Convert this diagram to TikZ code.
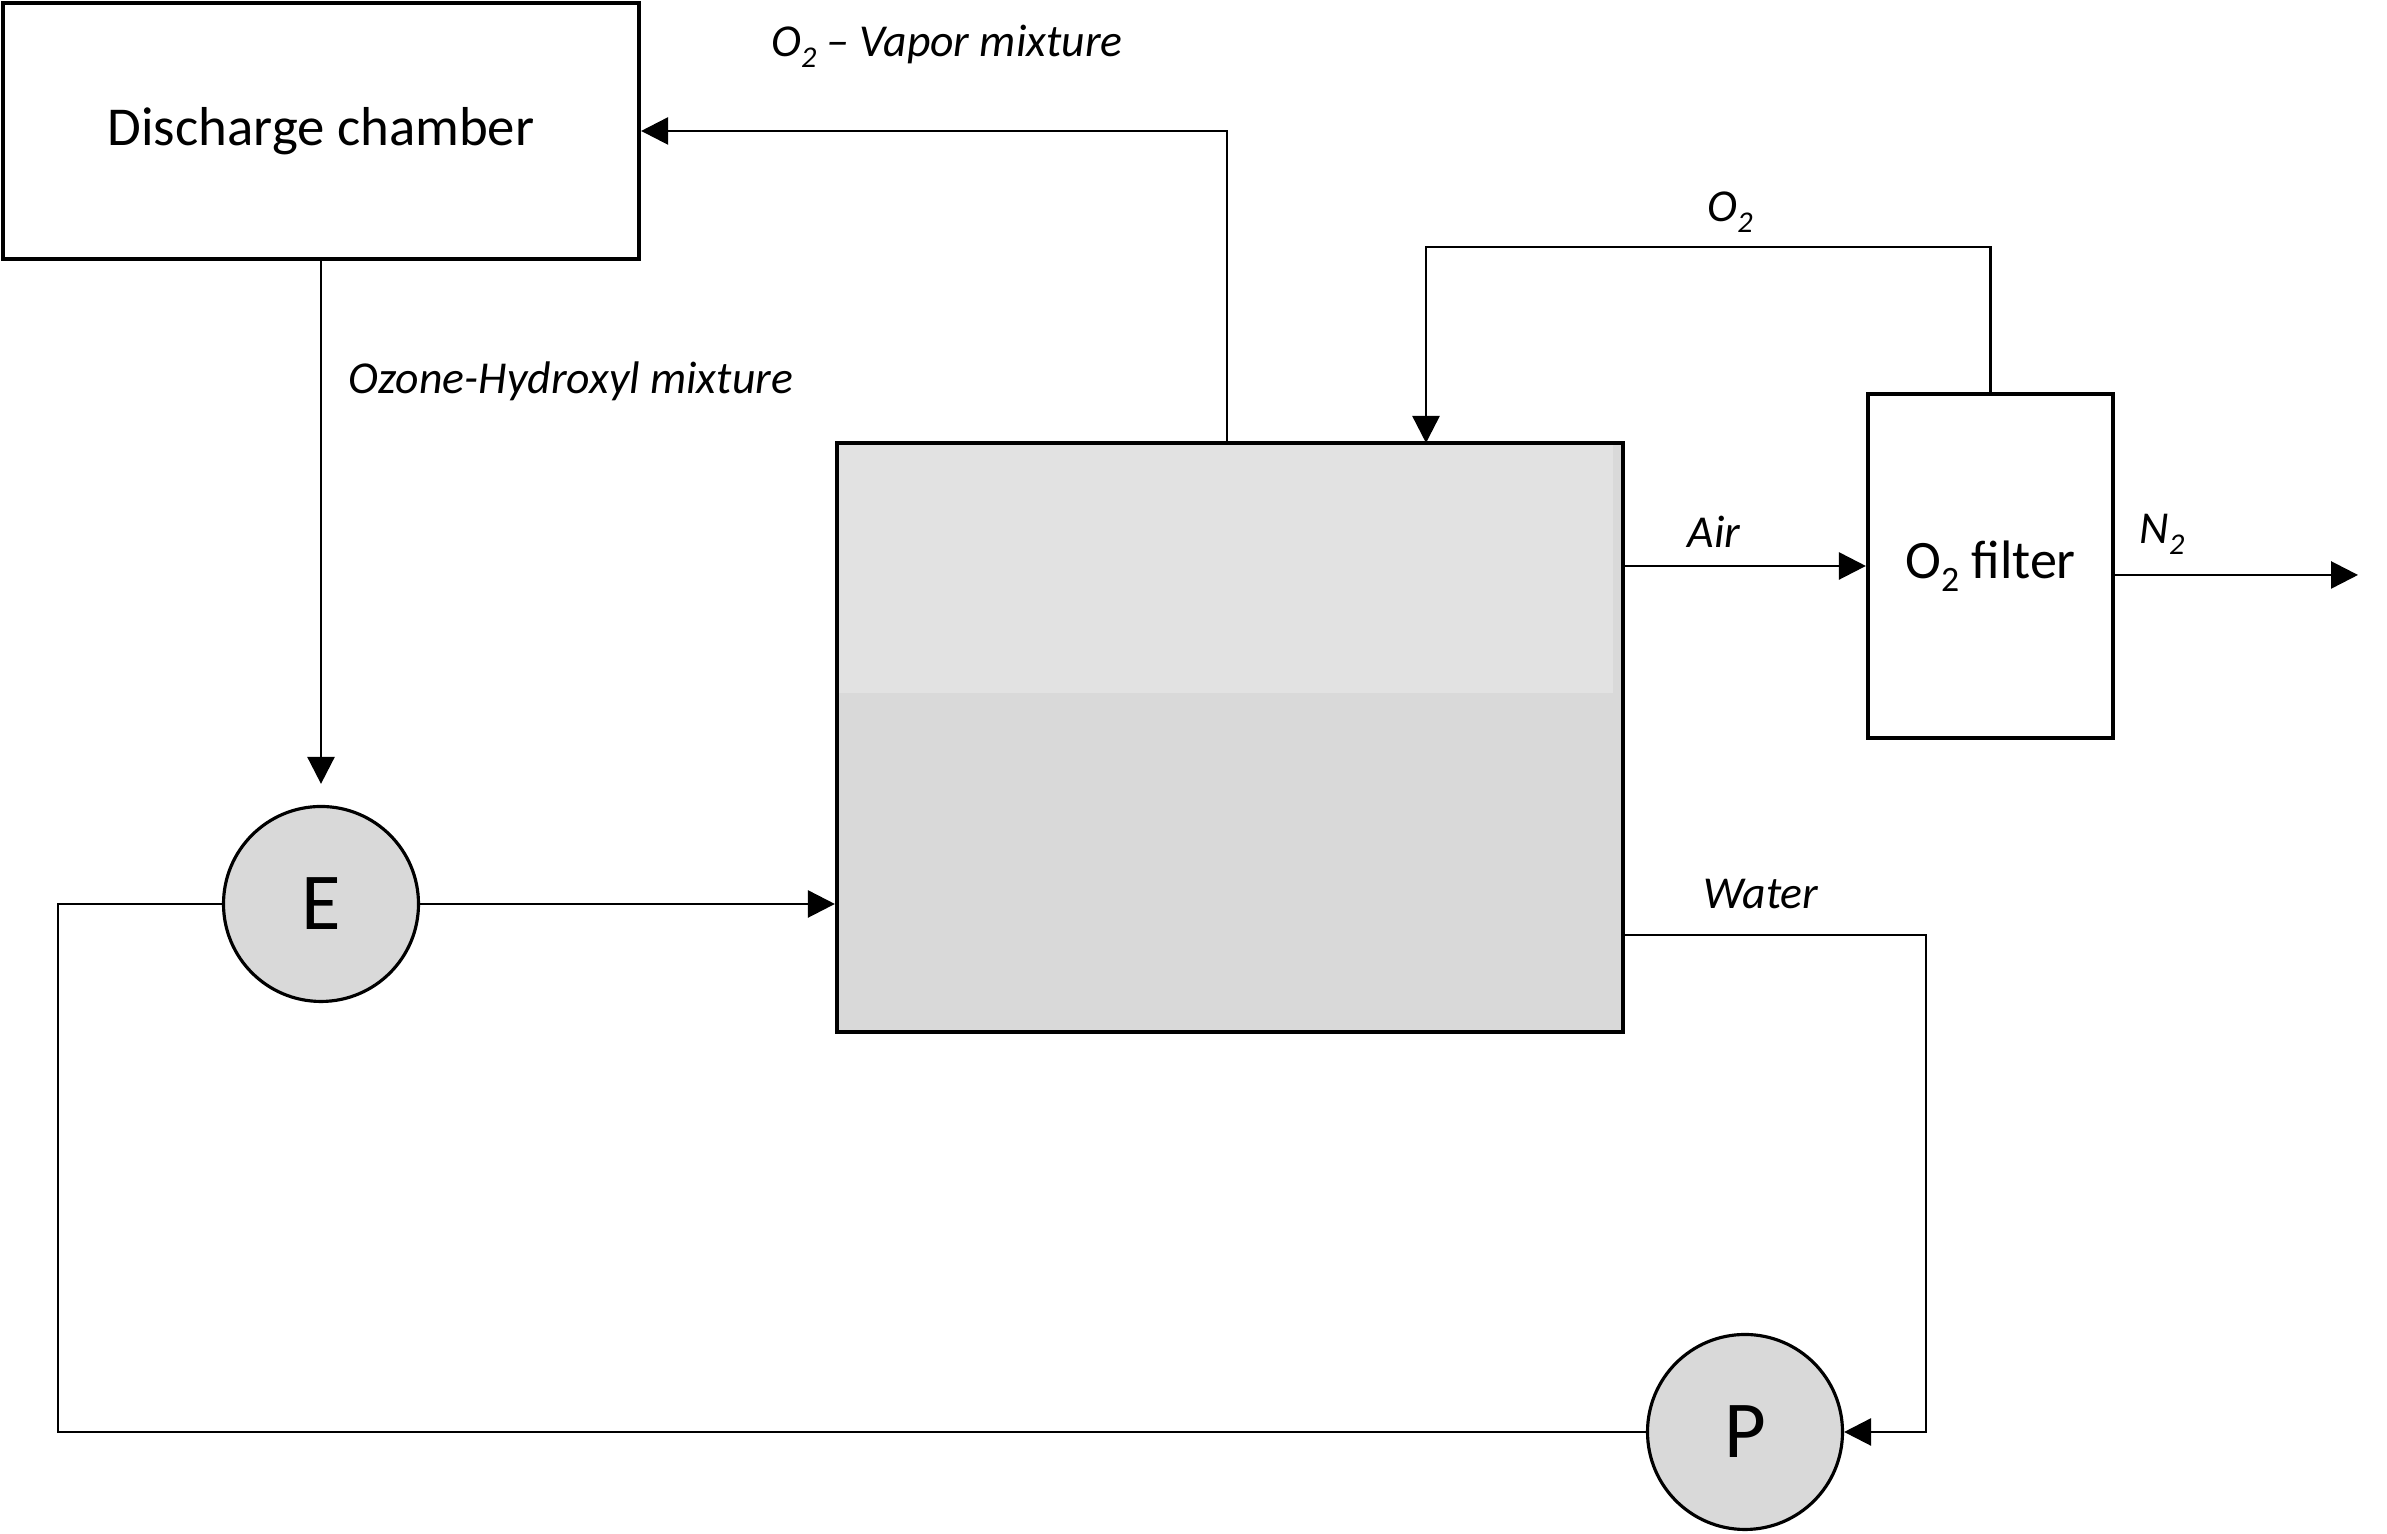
\documentclass[tikz,border=0pt]{standalone}
\usepackage{fontspec}
\usepackage{graphicx}
\setmainfont{Carlito}
\usetikzlibrary{arrows.meta}

\definecolor{gasgray}{HTML}{E2E2E2}
\definecolor{liqgray}{HTML}{D9D9D9}

% word-style subscript, sits lower than \textsubscript
\newcommand{\lowsub}[1]{\raisebox{-0.5ex}{\scalebox{0.66}{#1}}}

\tikzset{
    unit/.style={draw, line width=1.2pt, minimum width=#1, inner sep=0pt},
    pumpnode/.style={circle, draw, line width=0.9pt, fill=liqgray, minimum size=1.95cm, inner sep=0pt, font=\fontsize{23}{26}\selectfont},
    pipe/.style={line width=0.75pt},
    flow/.style={pipe, -{Triangle[length=0.27cm, width=0.27cm]}},
    stream/.style={font=\fontsize{13}{15}\selectfont\itshape}
}

\begin{document}
\begin{tikzpicture}
    \useasboundingbox (0,0) rectangle (23.87,15.34);

    % units
    \node[unit=6.36cm, minimum height=2.56cm, font=\fontsize{15.6}{18}\selectfont] (disc) at (3.21,14.03) {Discharge chamber};
    \fill[liqgray] (8.37,5.02) rectangle (16.23,10.91);
    \fill[gasgray] (8.37,8.41) rectangle (16.13,10.91);
    \node[unit=7.86cm, minimum height=5.89cm] (tank) at (12.30,7.965) {};
    \node[unit=2.45cm, minimum height=3.44cm, font=\fontsize{15.4}{18}\selectfont] (filter) at (19.905,9.68) {O\lowsub{2} filter};
    \node[pumpnode] (E) at (3.21,6.30) {E};
    \node[pumpnode] (P) at (17.45,1.02) {P};

    \coordinate (vap) at (12.27,10.91);
    \coordinate (oxin) at (14.26,10.91);
    \coordinate (n2out) at (23.58,9.59);

    % connectors
    \draw[flow] (vap) |- (disc.east);
    \draw[flow, shorten >=0.21cm] (disc.south) -- (E.north);
    \draw[flow] (filter.north) |- (14.26,12.87) -- (oxin);
    \draw[flow] (filter.west -| tank.east) -- (filter.west);
    \draw[flow] (filter.east |- n2out) -- (n2out);
    \draw[flow] (16.23,5.99) -| (19.26,1.02) -- (P.east);
    \draw[pipe] (P.west) -| (0.58,6.30) -- (E.west);
    \draw[flow] (E.east) -- (E.east -| tank.west);

    % stream labels
    \node[stream] (lvap) at (9.47,14.88) {O\lowsub{2} – Vapor mixture};
    \node[stream] (loh) at (5.71,11.53) {Ozone-Hydroxyl mixture};
    \node[stream] (lox) at (17.30,13.22) {O\lowsub{2}};
    \node[stream] (lair) at (17.14,10.02) {Air};
    \node[stream] (ln2) at (21.62,10.00) {N\lowsub{2}};
    \node[stream] (lwat) at (17.61,6.40) {Water};
\end{tikzpicture}
\end{document}
